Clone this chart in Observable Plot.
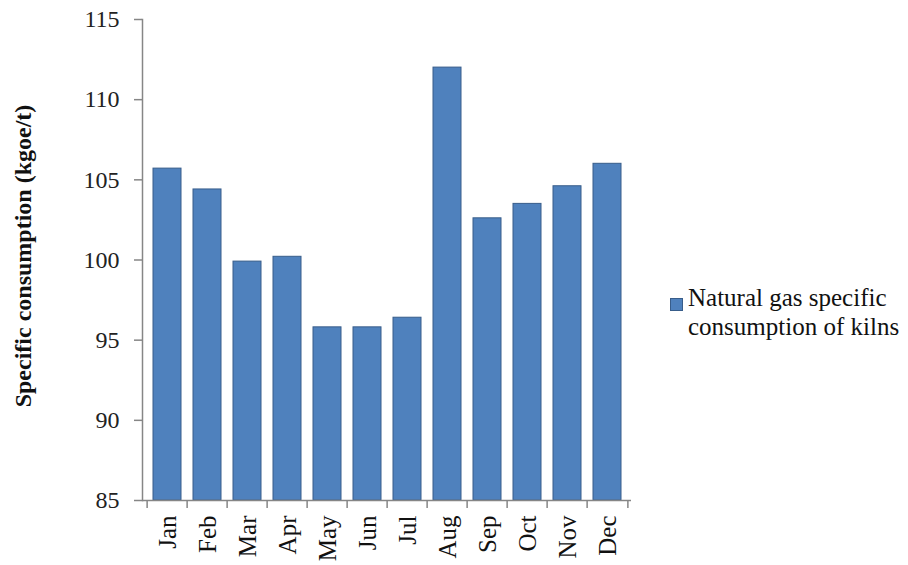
<!DOCTYPE html>
<html>
<head>
<meta charset="utf-8">
<script src="https://cdn.jsdelivr.net/npm/d3@7"></script>
<script src="https://cdn.jsdelivr.net/npm/@observablehq/plot@0.6"></script>
<style>
  html, body { margin: 0; padding: 0; background: #fff; }
  #wrap { position: relative; width: 908px; height: 565px; font-family: "Liberation Serif", serif; }
  #legend { position: absolute; left: 670px; top: 283px; font-size: 25px; line-height: 29px; color: #111; }
  #legend .sw { position: absolute; left: 0; top: 15px; width: 11px; height: 11px; background: #4F81BD; border: 1px solid #385D8A; }
  #legend .tx { position: absolute; left: 18px; top: 0; white-space: nowrap; }
  svg text { font-family: "Liberation Serif", serif; }
</style>
</head>
<body>
<div id="wrap">
  <div id="chart"></div>
  <div id="legend"><div class="sw"></div><div class="tx">Natural gas specific<br>consumption of kilns</div></div>
</div>
<script>
const months = ["Jan","Feb","Mar","Apr","May","Jun","Jul","Aug","Sep","Oct","Nov","Dec"];
const values = [105.7, 104.4, 99.9, 100.2, 95.8, 95.8, 96.4, 112.0, 102.6, 103.5, 104.6, 106.0];
const yTicks = [85, 90, 95, 100, 105, 110, 115];
const yLabel = "Specific consumption (kgoe/t)";
const seriesName = "Natural gas specific consumption of kilns";

const data = months.map((m, i) => ({month: m, value: values[i]}));

const W = 908, H = 565;
const mL = 142, mR = 277, mT = 19, mB = 65;
const step = (W - mL - mR) / months.length;
const axisColor = "#868686";

const chart = Plot.plot({
  width: W,
  height: H,
  marginLeft: mL,
  marginRight: mR,
  marginTop: mT,
  marginBottom: mB,
  style: {fontFamily: "Liberation Serif", fontSize: "24px", background: "transparent"},
  x: {domain: months, paddingInner: 0.31, paddingOuter: 0.155, axis: null, label: null},
  y: {domain: [85, 115], axis: null, label: null},
  marks: [
    Plot.barY(data, {x: "month", y1: 85, y2: "value", fill: "#4F81BD", stroke: "#385D8A", strokeWidth: 1, title: d => `${d.month}: ${d.value}`}),
    Plot.ruleY([85], {stroke: axisColor, strokeWidth: 1.5}),
    Plot.frame({anchor: "left", stroke: axisColor, strokeWidth: 1.5}),
    Plot.axisY({ticks: yTicks, tickSize: 8, tickPadding: 15, stroke: axisColor, strokeWidth: 1.5, fill: "#222", fontSize: 24, fontVariant: "normal", label: null}),
    Plot.axisX({ticks: months, tickSize: 8, dx: -step / 2, stroke: axisColor, strokeWidth: 1.5, fill: "none", label: null}),
    Plot.axisX({ticks: ["Dec"], tickSize: 8, dx: step / 2, stroke: axisColor, strokeWidth: 1.5, fill: "none", label: null}),
    Plot.axisX({ticks: months, tickSize: 0, tickPadding: 15, tickRotate: -90, fill: "#111", fontSize: 25, label: null}),
    Plot.text([yLabel], {frameAnchor: "left", dx: -119, dy: -4, rotate: -90, textAnchor: "middle", fontWeight: "bold", fontSize: 24, fill: "#111"})
  ]
});
document.getElementById("chart").appendChild(chart);
</script>
</body>
</html>
